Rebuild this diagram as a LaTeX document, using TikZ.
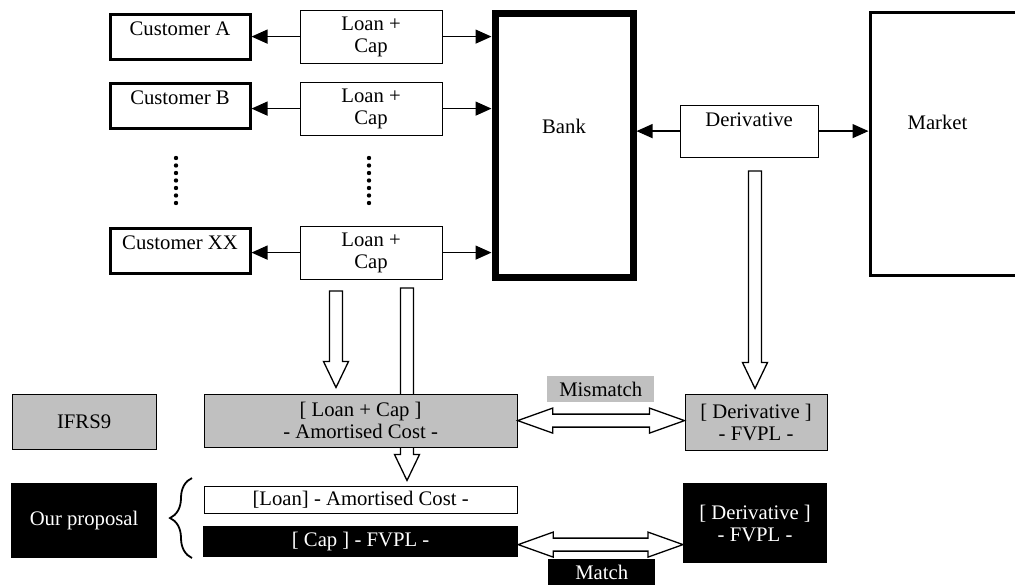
\documentclass[tikz,border=0pt]{standalone}
\usepackage{fontspec}
\setmainfont{Liberation Serif}
\usepackage{tikz}
\usetikzlibrary{calc, arrows.meta, backgrounds, decorations.pathreplacing}
\definecolor{ifrsGray}{HTML}{C0C0C0}

% hollow block arrows
\newcommand{\downblock}[2]{%
  \draw[blockarrow] ($(#1)+(-6.5,0)$) -- ($(#2)+(-6.5,-26)$) -- ($(#2)+(-12.5,-26)$)
    -- (#2) -- ($(#2)+(12.5,-26)$) -- ($(#2)+(6.5,-26)$) -- ($(#1)+(6.5,0)$) -- cycle;}
\newcommand{\twinblock}[2]{%
  \draw[blockarrow] (#1) -- ($(#1)+(35,-12.5)$) -- ($(#1)+(35,-6.5)$) -- ($(#2)+(-35,-6.5)$)
    -- ($(#2)+(-35,-12.5)$) -- (#2) -- ($(#2)+(-35,12.5)$) -- ($(#2)+(-35,6.5)$)
    -- ($(#1)+(35,6.5)$) -- ($(#1)+(35,12.5)$) -- cycle;}

\tikzset{
  thinbox/.style={draw, line width=1.2pt, inner sep=0pt, anchor=north west, align=center},
  custbox/.style={thinbox, line width=3pt, minimum width=140pt, text height=21pt, text depth=24pt},
  loanbox/.style={thinbox, minimum width=142pt, minimum height=53pt},
  graybox/.style={thinbox, fill=ifrsGray},
  blackbox/.style={thinbox, fill=black, text=white},
  tagbox/.style={inner sep=0pt, anchor=north west, minimum width=107pt, minimum height=26pt},
  link/.style={line width=1.3pt, -{Triangle[length=16pt,width=14pt]}},
  blockarrow/.style={draw, line width=1.3pt, fill=white, line join=miter},
}

\begin{document}
\begin{tikzpicture}[x=1pt, y=-1pt, font=\fontsize{20.7}{22}\selectfont]
    \useasboundingbox (0,0) rectangle (1015,584);
    % customers and loans
    \node[custbox] (custA) at (108.5,12.5) {Customer A};
    \node[custbox] (custB) at (108.5,81.5) {Customer B};
    \node[custbox] (custXX) at (108.5,226.5) {Customer XX};
    \node[loanbox] (loanA) at (299.5,9.5) {Loan +\\Cap};
    \node[loanbox] (loanB) at (299.5,81.5) {Loan +\\Cap};
    \node[loanbox] (loanXX) at (299.5,225.5) {Loan +\\Cap};
    \node[thinbox, line width=7pt, minimum width=138pt, text height=120pt, text depth=144pt] (bank) at (491.5,9.5) {Bank};
    \node[thinbox, minimum width=138pt, text height=21.5pt, text depth=30.5pt] (deriv) at (679.5,104.5) {Derivative};
    \node[thinbox, line width=3pt, minimum width=180pt, minimum height=263pt] (market) at (868.5,10.5) {};
    \node[anchor=base] at ([shift={(69,118.5)}]market.north west) {Market};
    \foreach \r in {A,B,XX} {
        \draw[link] (loan\r.west) -- (loan\r.west -| cust\r.east);
        \draw[link] (loan\r.east) -- (loan\r.east -| bank.west);
    }
    \draw[link] (deriv.west) -- (deriv.west -| bank.east);
    \draw[link] (deriv.east) -- (deriv.east -| market.west);
    \foreach \k in {0,...,6} {
        \fill (176,158+7.5*\k) circle (2.2pt);
        \fill (369,158+7.5*\k) circle (2.2pt);
    }
    % accounting
    \node[graybox, minimum width=144pt, minimum height=55pt] (ifrs) at (11.5,393.5) {IFRS9};
    \node[graybox, minimum width=313pt, minimum height=53pt] (ifrsloan) at (203.5,393.5) {[ Loan + Cap ]\\- Amortised Cost -};
    \node[graybox, minimum width=142pt, minimum height=56pt] (ifrsderiv) at (684.5,393.5) {[ Derivative ]\\- FVPL -};
    \node[blackbox, minimum width=145pt, minimum height=74pt] (proposal) at (11,483) {Our proposal};
    \node[thinbox, fill=white, minimum width=313pt, minimum height=27pt] (proploan) at (203.5,485.5) {[Loan] - Amortised Cost -};
    \node[blackbox, minimum width=314pt, minimum height=30pt] (propcap) at (203,526) {[ Cap ] - FVPL -};
    \node[blackbox, minimum width=143pt, minimum height=79pt] (propderiv) at (683,483) {[ Derivative ]\\- FVPL -};
    \node[tagbox, fill=ifrsGray] (mismatch) at (547,376) {Mismatch};
    \node[tagbox, fill=black, text=white] (match) at (548,559) {Match};
    \draw[line width=1.8pt, decorate, decoration={brace, amplitude=22pt}] (192,558) -- (192,478);
    % block arrows
    \coordinate (a1top) at (336,291);
    \coordinate (a1tip) at ($(a1top |- ifrsloan.north)+(0,-6)$);
    \coordinate (a2top) at (407,288);
    \coordinate (a2tip) at ($(a2top |- proploan.north)+(0,-5)$);
    \coordinate (a3top) at (755,171);
    \coordinate (a3tip) at ($(a3top |- ifrsderiv.north)+(0,-5)$);
    \downblock{a1top}{a1tip}
    \begin{scope}[on background layer]
        \downblock{a2top}{a2tip}
    \end{scope}
    \downblock{a3top}{a3tip}
    \coordinate (mmL) at (ifrsloan.east);
    \coordinate (mmR) at (mmL -| ifrsderiv.west);
    \twinblock{mmL}{mmR}
    \coordinate (mL) at ($(propcap.east)+(0,3)$);
    \coordinate (mR) at (mL -| propderiv.west);
    \twinblock{mL}{mR}
\end{tikzpicture}
\end{document}
